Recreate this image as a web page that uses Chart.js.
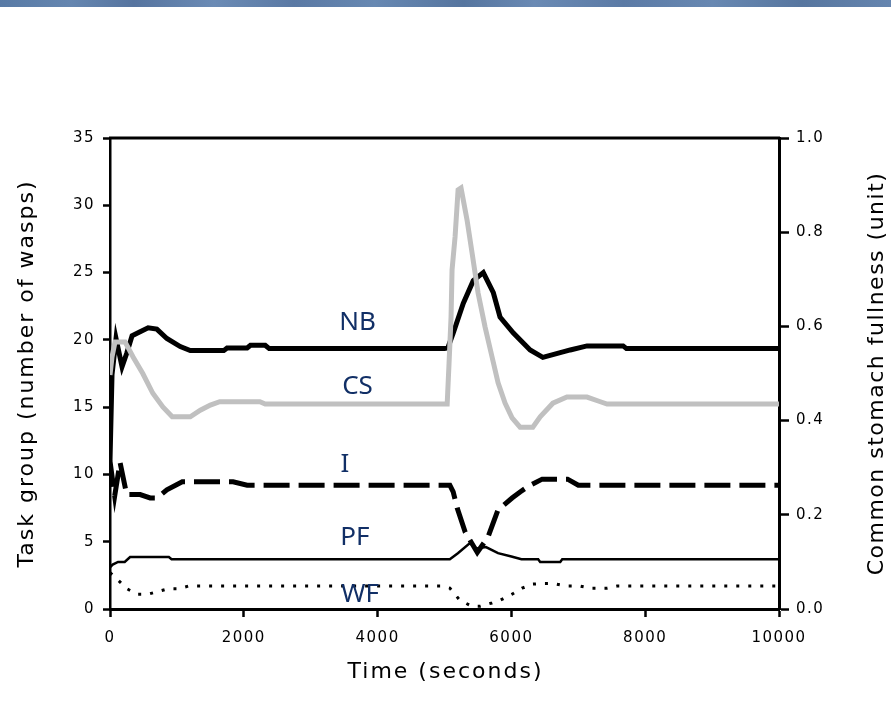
<!DOCTYPE html>
<html>
<head>
<meta charset="utf-8">
<script src="https://cdn.jsdelivr.net/npm/chart.js@4.4.1/dist/chart.umd.min.js"></script>
<style>
  html, body { margin: 0; padding: 0; background: #fff; }
  #wrap { position: absolute; left: 0; top: 0; width: 891px; height: 714px; }
  #band {
    position: absolute; left: 0; top: 0; width: 891px; height: 7px;
    background: linear-gradient(90deg, #587aa5 0%, #6586b0 8%, #56749f 15%, #6b8bb5 24%, #5a79a4 33%,
      #6788b2 42%, #56759f 52%, #6a8ab4 60%, #5b7aa5 70%, #6888b2 80%, #57769f 90%, #6585af 100%);
  }
</style>
</head>
<body>
<div id="wrap"><canvas id="c" width="891" height="714"></canvas></div>
<div id="band"></div>
<script>
// Nest builders (NB), number of wasps over time
const nbTime  = [0, 30, 90, 180, 250, 330, 450, 570, 700, 850, 1050, 1200, 1700, 1750, 2050, 2100, 2320, 2380, 5000, 5050,
                 5130, 5280, 5430, 5580, 5730, 5830, 6030, 6280, 6470, 6620, 6880, 7130, 7670, 7720, 10000];
const nbCount = [11.0, 17.4, 20.1, 18.0, 19.0, 20.3, 20.6, 20.9, 20.8, 20.1, 19.5, 19.2, 19.2, 19.4, 19.4, 19.6, 19.6, 19.35, 19.35, 19.4,
                 20.5, 22.7, 24.4, 25.0, 23.5, 21.7, 20.5, 19.25, 18.7, 18.9, 19.25, 19.55, 19.55, 19.35, 19.35];

// Common stomach (CS) fullness, right axis
const csTime     = [0, 30, 75, 225, 345, 490, 640, 790, 930, 1200, 1350, 1500, 1640, 2240, 2320, 5040, 5068, 5098, 5113, 5158,
                    5203, 5247, 5337, 5412, 5502, 5606, 5711, 5801, 5905, 6010, 6130, 6320, 6430, 6620, 6830, 7130, 7330, 7430, 10000];
const csFullness = [0.497, 0.535, 0.567, 0.567, 0.535, 0.50, 0.458, 0.429, 0.408, 0.408, 0.422, 0.433, 0.44, 0.44, 0.435, 0.435, 0.522, 0.62, 0.72, 0.79,
                    0.89, 0.894, 0.826, 0.756, 0.671, 0.599, 0.535, 0.48, 0.437, 0.406, 0.386, 0.386, 0.408, 0.437, 0.45, 0.45, 0.44, 0.435, 0.435];

// Inactive wasps (I)
const iTime  = [0, 70, 150, 250, 450, 600, 700, 850, 1080, 1840, 2050, 5080, 5130, 5190, 5310, 5490, 5650, 5800, 6010, 6130,
                6280, 6460, 6840, 7000, 10000];
const iCount = [11.0, 8.4, 10.9, 8.5, 8.5, 8.25, 8.25, 8.85, 9.45, 9.45, 9.2, 9.2, 8.7, 7.5, 5.7, 4.2, 5.35, 7.36, 8.25, 8.7,
                9.2, 9.65, 9.65, 9.2, 9.2];

// Pulp foragers (PF)
const pfTime  = [0, 40, 120, 220, 300, 880, 920, 5080, 5200, 5380, 5480, 5620, 5800, 6000, 6150, 6400, 6430, 6730, 6760, 10000];
const pfCount = [3.1, 3.3, 3.5, 3.5, 3.86, 3.86, 3.7, 3.7, 4.15, 4.9, 4.5, 4.6, 4.15, 3.9, 3.7, 3.7, 3.5, 3.5, 3.7, 3.7];

// Water foragers (WF)
const wfTime  = [0, 120, 255, 400, 570, 720, 870, 1020, 1170, 4960, 5080, 5230, 5410, 5530, 5710, 5830, 6010, 6160, 6320, 6490,
                 6620, 6820, 7030, 7180, 7430, 7580, 10000];
const wfCount = [2.7, 2.15, 1.5, 1.1, 1.1, 1.3, 1.5, 1.5, 1.7, 1.7, 1.55, 0.65, 0.2, 0.2, 0.45, 0.65, 1.1, 1.55, 1.85, 1.9,
                 1.9, 1.7, 1.7, 1.55, 1.55, 1.7, 1.7];

// Axis ticks
const timeTicks     = [0, 2000, 4000, 6000, 8000, 10000];
const groupTicks    = [0, 5, 10, 15, 20, 25, 30, 35];
const fullnessTicks = [0, 0.2, 0.4, 0.6, 0.8, 1.0];

// In-plot series names, anchored in data units (time, wasps)
const seriesNames = ['NB', 'CS', 'I', 'PF', 'WF'];
const nameTime    = [3700, 3700, 3510, 3660, 3740];
const nameLevel   = [21.3, 16.5, 10.7, 5.3, 1.1];

const pts = (xs, ys) => xs.map((x, i) => ({ x: x, y: ys[i] }));

const TICK_FONT = { family: 'DejaVu Sans', size: 15 };

const frame = {
  id: 'frame',
  beforeDraw(chart) {
    chart.ctx.letterSpacing = '1.5px';
  },
  afterDraw(chart) {
    const ctx = chart.ctx, a = chart.chartArea;
    const xs = chart.scales.x, ys = chart.scales.y;
    ctx.save();
    // top edge of the plot frame
    ctx.strokeStyle = '#000';
    ctx.lineWidth = 3;
    ctx.beginPath();
    ctx.moveTo(a.left - 1, a.top);
    ctx.lineTo(a.right + 1, a.top);
    ctx.stroke();

    // series names
    ctx.letterSpacing = '0px';
    ctx.fillStyle = '#112f66';
    ctx.font = '26px "Noto Sans"';
    ctx.textAlign = 'center';
    ctx.textBaseline = 'middle';
    seriesNames.forEach((s, i) => {
      ctx.fillText(s, xs.getPixelForValue(nameTime[i]), ys.getPixelForValue(nameLevel[i]));
    });

    // axis titles
    ctx.fillStyle = '#000';
    ctx.font = '22px "DejaVu Sans"';
    ctx.letterSpacing = '2px';
    ctx.fillText('Time (seconds)', (a.left + a.right) / 2 + 1, 672);

    ctx.save();
    ctx.translate(27, (a.top + a.bottom) / 2);
    ctx.rotate(-Math.PI / 2);
    ctx.fillText('Task group (number of wasps)', 0, 0);
    ctx.restore();

    ctx.letterSpacing = '1.5px';
    ctx.save();
    ctx.translate(877, (a.top + a.bottom) / 2);
    ctx.rotate(-Math.PI / 2);
    ctx.fillText('Common stomach fullness (unit)', 0, 0);
    ctx.restore();

    ctx.restore();
  }
};

new Chart(document.getElementById('c'), {
  type: 'line',
  data: {
    datasets: [
      { label: 'CS', data: pts(csTime, csFullness), yAxisID: 'y1',
        borderColor: '#c0c0c0', borderWidth: 5 },
      { label: 'NB', data: pts(nbTime, nbCount), yAxisID: 'y',
        borderColor: '#000', borderWidth: 5 },
      { label: 'I', data: pts(iTime, iCount), yAxisID: 'y',
        borderColor: '#000', borderWidth: 5, borderDash: [26, 9] },
      { label: 'PF', data: pts(pfTime, pfCount), yAxisID: 'y',
        borderColor: '#000', borderWidth: 2.5 },
      { label: 'WF', data: pts(wfTime, wfCount), yAxisID: 'y',
        borderColor: '#000', borderWidth: 3, borderDash: [3, 9] }
    ]
  },
  options: {
    responsive: false,
    animation: false,
    devicePixelRatio: 1,
    layout: { padding: { top: 138, left: 0, right: 0, bottom: 0 } },
    elements: {
      point: { radius: 0 },
      line: { tension: 0, borderCapStyle: 'butt', borderJoinStyle: 'miter', fill: false }
    },
    plugins: { legend: { display: false }, tooltip: { enabled: false } },
    scales: {
      x: {
        type: 'linear', min: 0, max: 10000,
        afterBuildTicks: s => { s.ticks = timeTicks.map(v => ({ value: v })); },
        afterFit: s => { s.height = 105; },
        ticks: { color: '#000', font: TICK_FONT, padding: 12, maxRotation: 0,
                 callback: v => String(v) },
        grid: { drawOnChartArea: false, drawTicks: true, tickLength: 8, tickWidth: 2.5, color: '#000' },
        border: { display: true, color: '#000', width: 3 }
      },
      y: {
        type: 'linear', position: 'left', min: 0, max: 35,
        afterBuildTicks: s => { s.ticks = groupTicks.map(v => ({ value: v })); },
        afterFit: s => { s.width = 110; },
        ticks: { color: '#000', font: TICK_FONT, padding: 8, callback: v => String(v) },
        grid: { drawOnChartArea: false, drawTicks: true, tickLength: 7, tickWidth: 2.5, color: '#000' },
        border: { display: true, color: '#000', width: 2.5 }
      },
      y1: {
        type: 'linear', position: 'right', min: 0, max: 1,
        afterBuildTicks: s => { s.ticks = fullnessTicks.map(v => ({ value: v })); },
        afterFit: s => { s.width = 112; },
        ticks: { color: '#000', font: TICK_FONT, padding: 7, callback: v => v.toFixed(1) },
        grid: { drawOnChartArea: false, drawTicks: true, tickLength: 10, tickWidth: 2.5, color: '#000' },
        border: { display: true, color: '#000', width: 3 }
      }
    }
  },
  plugins: [frame]
});
</script>
</body>
</html>
